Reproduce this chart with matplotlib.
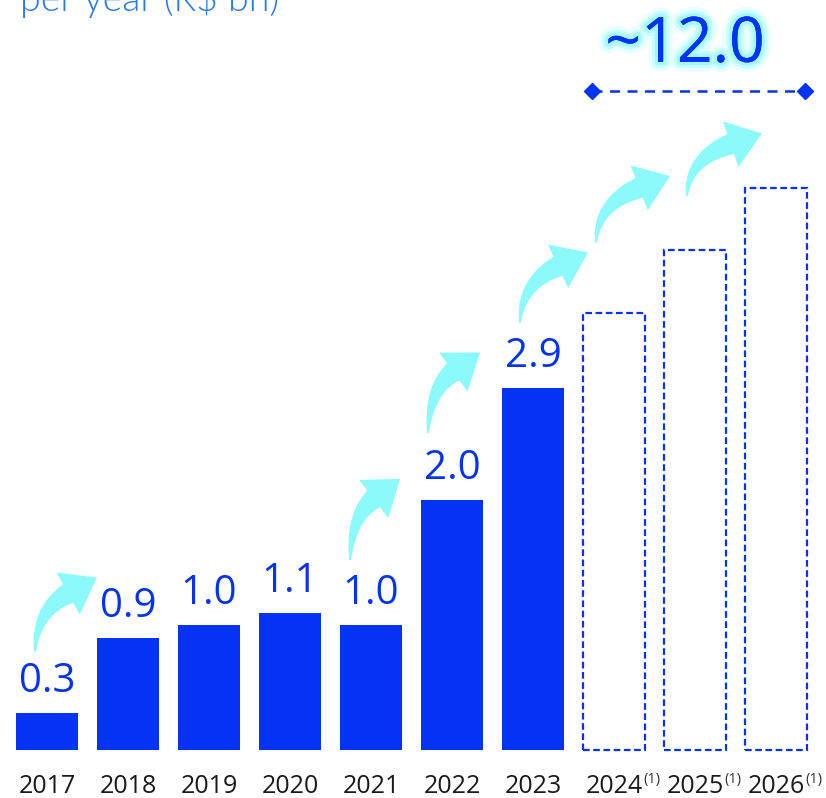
import numpy as np
import matplotlib.pyplot as plt
import matplotlib.patheffects as pe
from matplotlib.patches import Polygon

plt.rcParams['font.family'] = ['Open Sans', 'DejaVu Sans']

years = ['2017', '2018', '2019', '2020', '2021', '2022', '2023', '2024', '2025', '2026']
actual = [0.3, 0.9, 1.0, 1.1, 1.0, 2.0, 2.9]
projected = [3.5, 4.0, 4.5]
value_labels = ['0.3', '0.9', '1.0', '1.1', '1.0', '2.0', '2.9']
total_label = '~12.0'
title = 'per year (R$ bn)'

blue = '#0433F4'
cyan = '#8CFAFA'

fig = plt.figure(figsize=(8.26, 7.98), dpi=100)
ax = fig.add_axes([0, 0, 1, 1])
ax.set_xlim(-47/81, (826-47)/81)
ax.set_ylim(-48/125, 750/125)
ax.axis('off')

x = np.arange(len(years))
n_act = len(actual)
w = 0.765
ax.bar(x[:n_act], actual, width=w, color=blue, zorder=2)
ax.bar(x[n_act:], projected, width=w, fill=False, edgecolor=blue,
       linewidth=1.6, linestyle=(0, (3, 1.6)), zorder=2)

for xi, v, s in zip(x[:n_act], actual, value_labels):
    ax.annotate(s, (xi, v), xytext=(0, 15), textcoords='offset points',
                ha='center', va='baseline', fontsize=29, color=blue)

for i, yr in enumerate(years):
    t = ax.text(x[i], -0.344, yr, ha='center', va='baseline', fontsize=18, color='#1a1a1a')
    if i >= n_act:
        ax.annotate('(1)', xy=(1.02, 1.1), xycoords=t, ha='left', va='top',
                    fontsize=10.5, color='#333333')

ax.text(-0.333, 5.91, title, ha='left', va='baseline', fontsize=27,
        family=['Lato', 'DejaVu Sans'], fontweight=300, color='#2479F0')

# total over projection period
ax.text(7.877, 5.636, total_label, ha='center', va='center', fontsize=45, color=blue,
        path_effects=[pe.withStroke(linewidth=14, foreground=cyan, alpha=0.18),
                      pe.withStroke(linewidth=9, foreground=cyan, alpha=0.35),
                      pe.withStroke(linewidth=5, foreground=cyan, alpha=0.6),
                      pe.Normal()])
ax.plot([6.73, 9.36], [5.272, 5.272], color=blue, linewidth=1.8,
        linestyle=(0, (4, 3)), zorder=3)
ax.plot([6.73, 9.36], [5.272, 5.272], 'D', color=blue, markersize=8, zorder=4)

# curved growth arrows (offsets in pixels from bar tops)
vals = actual + projected
arrows = [(0, (-12, 61), (-31, 60)),
          (4, (-21, 65), (-52, 21)),
          (5, (-24, 67), (-53, 35)),
          (6, (-13, 65), (-26, 60)),
          (7, (-18, 70), (-25, 74)),
          (8, (-8, 54), (-14, 54))]

def curved_arrow(T, P, hl=33, hw=24, w0=2, w1=21):
    T = np.array(T, float)
    P = np.array(P, float)
    ch = P - T
    chord = np.arctan2(ch[1], ch[0])
    te = chord - np.radians(21)
    d = np.array([np.cos(te), np.sin(te)])
    ts = np.radians(88)
    s = np.array([np.cos(ts), np.sin(ts)])
    B = P - hl*d
    A = np.column_stack([s, d])
    a, b = np.linalg.solve(A, B - T)
    C = T + a*s
    u = np.linspace(0, 1, 40)[:, None]
    pts = (1-u)**2*T + 2*(1-u)*u*C + u**2*B
    tan = 2*(1-u)*(C-T) + 2*u*(B-C)
    tan = tan/np.linalg.norm(tan, axis=1)[:, None]
    nrm = np.column_stack([-tan[:, 1], tan[:, 0]])
    ww = (w0 + (w1-w0)*u)/2
    left = pts + nrm*ww
    right = pts - nrm*ww
    nd = np.array([-d[1], d[0]])
    head = [B + nd*hw, P, B - nd*hw]
    poly = np.vstack([left, head, right[::-1]])
    return poly

for i, (tx, ty), (px, py) in arrows:
    T = ax.transData.transform((x[i], vals[i])) + np.array([tx, ty])
    P = ax.transData.transform((x[i+1], vals[i+1])) + np.array([px, py])
    poly = ax.transData.inverted().transform(curved_arrow(T, P))
    ax.add_patch(Polygon(poly, closed=True, facecolor=cyan, edgecolor='none', zorder=3))

fig.savefig('out.png', dpi=100)
